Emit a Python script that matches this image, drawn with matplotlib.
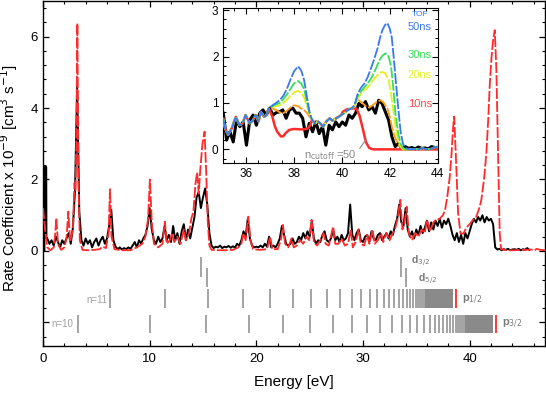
import numpy as np
import matplotlib
matplotlib.use('Agg')
import matplotlib.pyplot as plt
from matplotlib.ticker import MultipleLocator, FuncFormatter

plt.rcParams['font.family'] = ['Liberation Sans', 'DejaVu Sans']

# ---- measured rate (black), regular energy grid ----
EXP_E0 = 0.4
EXP_DE = 0.2
exp_rate = [
    0.35, 0.2, 0.3, 0.15, 0.4, 0.25, 0.1, 0.3, 0.2, 0.35,      # 0.4 - 2.2
    0.5, 0.2, 0.65, 1.7, 4.6, 1.1, 0.3, 0.15, 0.35, 0.2,       # 2.4 - 4.2
    0.3, 0.1, 0.25, 0.35, 0.15, 0.3, 0.4, 0.2, 0.35, 0.7,      # 4.4 - 6.2
    1.15, 0.3, 0.12, 0.05, 0.1, 0.04, 0.08, 0.05, 0.1, 0.06,   # 6.4 - 8.2
    0.15, 0.25, 0.1, 0.3, 0.2, 0.35, 0.45, 0.7, 1.2, 0.6,      # 8.4 - 10.2
    0.3, 0.2, 0.4, 0.25, 0.35, 0.7, 0.3, 0.45, 0.25, 0.7,      # 10.4 - 12.2
    0.3, 0.5, 0.2, 0.55, 0.75, 0.3, 0.6, 0.35, 0.65, 0.95,     # 12.4 - 14.2
    1.5, 1.65, 1.2, 1.5, 1.75, 1.3, 0.5, 0.15, 0.08, 0.12,     # 14.4 - 16.2
    0.1, 0.15, 0.08, 0.12, 0.1, 0.14, 0.09, 0.13, 0.1, 0.2,    # 16.4 - 18.2
    0.15, 0.3, 0.55, 0.4, 0.9, 0.35, 0.15, 0.1, 0.12, 0.1,     # 18.4 - 20.2
    0.15, 0.1, 0.2, 0.12, 0.4, 0.1, 0.15, 0.1, 0.2, 0.35,      # 20.4 - 22.2
    0.7, 0.45, 0.2, 0.15, 0.2, 0.35, 0.2, 0.25, 0.4, 0.3,      # 22.4 - 24.2
    0.5, 0.35, 0.55, 0.4, 0.85, 0.35, 0.2, 0.3, 0.25, 0.45,    # 24.4 - 26.2
    0.55, 0.3, 0.25, 0.35, 0.6, 0.3, 0.4, 0.25, 0.45, 0.3,     # 26.4 - 28.2
    0.35, 0.5, 1.3, 0.45, 0.3, 0.5, 0.6, 0.3, 0.25, 0.4,       # 28.4 - 30.2
    0.45, 0.25, 0.55, 0.35, 0.3, 0.45, 0.5, 0.3, 0.4, 0.5,     # 30.4 - 32.2
    0.35, 0.55, 0.45, 0.7, 0.9, 1.3, 0.8, 0.7, 1.2, 0.6,       # 32.4 - 34.2
    0.4, 0.55, 0.35, 0.6, 0.45, 0.7, 0.5, 0.65, 0.85, 0.55,    # 34.4 - 36.2
    0.8, 0.6, 0.85, 0.7, 0.9, 0.65, 0.85, 0.75, 0.9, 0.7,      # 36.4 - 38.2
    0.45, 0.3, 0.5, 0.25, 0.45, 0.2, 0.5, 0.35, 0.55, 0.75,    # 38.4 - 40.2
    0.9, 0.8, 0.95, 0.85, 1.0, 0.8, 0.95, 0.85, 0.9, 0.75,     # 40.4 - 42.2
    0.1, 0.04, 0.06, 0.02, 0.05, 0.03, 0.06, 0.02, 0.04, 0.05, # 42.4 - 44.2
    0.03, 0.06, 0.02, 0.05, 0.03, 0.08, 0.03,                  # 44.4 - 45.6
]
# narrow spike at the very start of the scan
spike_e = [0.13, 0.15, 0.3, 0.32]
spike_rate = [0.0, 2.35, 2.35, 0.35]

# ---- theory (red dashed), (energy, rate) ----
theory = [
    (0.0, 1.2), (0.2, 0.6), (0.4, 0.1), (0.7, 0.02), (1.0, 0.1), (1.12, 0.4), (1.25, 0.92),
    (1.4, 0.2), (1.7, 0.03), (2.0, 0.1), (2.2, 0.35), (2.37, 1.1), (2.55, 0.25), (2.8, 0.6),
    (2.95, 1.9), (3.05, 1.7), (3.12, 3.0), (3.22, 6.37), (3.32, 2.0), (3.45, 0.3), (3.7, 0.03),
    (4.2, 0.02), (4.8, 0.03), (5.3, 0.05), (5.6, 0.12), (5.9, 0.08), (6.15, 0.5), (6.28, 1.73),
    (6.42, 0.4), (6.7, 0.05), (7.4, 0.02), (8.2, 0.02), (8.8, 0.1), (9.3, 0.2), (9.6, 0.4),
    (9.85, 0.9), (10.02, 2.0), (10.2, 0.8), (10.4, 0.2), (10.8, 0.1), (11.2, 0.2), (11.43, 0.82),
    (11.6, 0.2), (11.9, 0.3), (12.1, 0.5), (12.3, 0.25), (12.6, 0.4), (12.9, 0.2), (13.2, 0.6),
    (13.4, 0.3), (13.7, 0.5), (13.9, 0.9), (14.1, 1.1), (14.3, 1.9), (14.45, 2.2), (14.6, 1.6),
    (14.75, 2.3), (14.95, 3.0), (15.15, 3.34), (15.3, 2.2), (15.45, 0.8), (15.6, 0.15),
    (15.8, 0.03), (16.5, 0.02), (17.2, 0.02), (17.8, 0.03), (18.3, 0.1), (18.6, 0.2), (18.8, 0.5),
    (19.0, 0.3), (19.25, 0.96), (19.45, 0.3), (19.7, 0.05), (20.3, 0.03), (21.0, 0.05),
    (21.3, 0.4), (21.5, 0.05), (22.0, 0.05), (22.3, 0.3), (22.5, 0.73), (22.7, 0.2), (23.0, 0.1),
    (23.3, 0.35), (23.5, 0.1), (23.8, 0.15), (24.1, 0.3), (24.4, 0.2), (24.7, 0.4), (24.95, 0.3),
    (25.18, 0.87), (25.4, 0.25), (25.7, 0.15), (26.0, 0.3), (26.3, 0.5), (26.5, 0.2), (26.8, 0.15),
    (27.2, 0.68), (27.4, 0.2), (27.7, 0.2), (28.0, 0.35), (28.3, 0.15), (28.6, 0.2), (28.85, 0.6),
    (29.05, 0.1), (29.3, 0.25), (29.6, 0.6), (29.8, 0.2), (30.1, 0.15), (30.4, 0.45), (30.6, 0.2),
    (30.9, 0.6), (31.1, 0.2), (31.4, 0.3), (31.7, 0.5), (31.9, 0.25), (32.2, 0.5), (32.5, 0.3),
    (32.8, 0.5), (33.0, 0.6), (33.25, 0.9), (33.5, 1.43), (33.7, 0.6), (33.9, 0.8), (34.1, 1.24),
    (34.3, 0.5), (34.6, 0.3), (34.9, 0.5), (35.2, 0.4), (35.5, 0.6), (35.8, 0.5), (36.0, 0.87),
    (36.3, 0.55), (36.6, 0.8), (36.9, 0.87), (37.2, 0.9), (37.5, 1.0), (37.7, 1.15), (37.9, 1.5),
    (38.14, 2.08), (38.3, 2.7), (38.46, 3.48), (38.55, 3.76), (38.7, 2.74), (38.92, 1.06),
    (39.14, 0.5), (39.4, 0.48), (39.7, 0.65), (40.0, 0.75), (40.32, 0.87), (40.63, 0.96),
    (40.95, 1.24), (41.1, 1.43), (41.35, 2.0), (41.57, 2.74), (41.75, 3.7), (41.88, 4.6),
    (42.05, 5.4), (42.2, 5.9), (42.36, 6.18), (42.51, 5.06), (42.67, 2.74), (42.82, 0.5),
    (42.95, 0.05), (43.5, 0.02), (44.2, 0.02), (45.0, 0.03), (45.8, 0.04), (46.1, 0.02),
    (46.3, 0.06), (46.6, 0.03), (47.05, 0.02),
]

# ---- resonance positions (eV) ----
ryd10_e = [3.25, 10.06, 15.27, 19.28, 22.47, 25.06, 27.17, 28.93, 30.4, 31.64, 32.71, 33.62,
           34.41, 35.1, 35.7, 36.24, 36.71, 37.13, 37.51, 37.85, 38.16, 38.43, 38.69, 38.91,
           39.12, 39.31, 39.49]
ryd10_dense = (39.6, 42.22)
ryd11_e = [6.28, 11.47, 15.51, 18.71, 21.3, 23.41, 25.17, 26.64, 27.88, 28.94, 29.86, 30.65,
           31.34, 31.95, 32.48, 32.95, 33.38, 33.76, 34.1, 34.4, 34.68, 34.93, 35.16, 35.37,
           35.56, 35.74]
ryd11_dense = (35.85, 38.45)
d32_e = [14.81, 33.55]
d52_e = [15.34, 34.08]
p12_limit = 38.77
p32_limit = 42.52

# ---- inset: measured rate on its own grid ----
INSET_E0 = 35.05
INSET_DE = 0.138
inset_exp = [0.78, 0.2, 0.38, 0.16, 0.63, 0.49, 0.59, 0.09, 0.63, 0.74,
             0.52, 0.78, 0.85, 0.74, 0.89, 0.74, 0.79, 0.81, 0.85, 0.67,
             0.85, 0.89, 0.78, 0.78, 0.67, 0.27, 0.56, 0.38, 0.59, 0.34,
             0.49, 0.09, 0.52, 0.42, 0.59, 0.49, 0.59, 0.52, 0.74, 0.67,
             0.78, 0.99, 0.92, 1.03, 0.85, 0.92, 0.78, 1.06, 0.99, 0.81,
             0.63, 0.27, 0.06, 0.13, 0.02, 0.06, 0.02, 0.04, 0.01, 0.05,
             0.02, 0.03, 0.01, 0.06, 0.04]

# inset: model curves, shared pieces and TOF-specific peaks
tof_start = [(35.05, 0.66), (35.12, 0.45), (35.25, 0.31), (35.4, 0.45), (35.57, 0.70),
             (35.72, 0.52), (35.85, 0.55), (35.98, 0.74), (36.15, 0.56), (36.28, 0.62),
             (36.4, 0.74), (36.52, 0.6), (36.62, 0.81), (36.75, 0.7), (36.85, 0.74), (36.95, 0.88)]
tof_mid = [(38.75, 0.64), (38.88, 0.56), (39.0, 0.6), (39.1, 0.56), (39.21, 0.49), (39.35, 0.6),
           (39.49, 0.67), (39.6, 0.62), (39.7, 0.65), (39.85, 0.7), (39.97, 0.74), (40.1, 0.78),
           (40.25, 0.85), (40.4, 0.88)]
tof_tail = [(42.8, 0.0), (43.0, 0.01), (43.2, 0.0), (43.35, 0.03), (43.5, 0.0), (43.7, 0.01),
            (43.85, 0.04), (44.0, 0.06)]

tof50_p1 = [(37.1, 0.95), (37.25, 1.0), (37.4, 1.06), (37.55, 1.15), (37.7, 1.3), (37.85, 1.5),
            (38.0, 1.68), (38.17, 1.79), (38.3, 1.7), (38.42, 1.5), (38.55, 1.1), (38.65, 0.8)]
tof50_p2 = [(40.52, 0.95), (40.66, 1.2), (40.8, 1.33), (40.94, 1.42), (41.07, 1.55),
            (41.21, 1.74), (41.35, 1.95), (41.49, 2.18), (41.6, 2.42), (41.69, 2.57),
            (41.8, 2.68), (41.9, 2.72), (42.0, 2.6), (42.08, 2.42), (42.16, 2.0), (42.24, 1.53),
            (42.35, 0.9), (42.45, 0.38), (42.55, 0.12), (42.66, 0.03)]
tof30_p1 = [(37.1, 0.93), (37.25, 0.97), (37.4, 1.0), (37.55, 1.08), (37.7, 1.18), (37.85, 1.3),
            (38.0, 1.42), (38.17, 1.47), (38.3, 1.42), (38.42, 1.3), (38.55, 1.0), (38.65, 0.78)]
tof30_p2 = [(40.52, 0.93), (40.66, 1.15), (40.8, 1.25), (40.94, 1.34), (41.07, 1.42),
            (41.21, 1.52), (41.35, 1.66), (41.49, 1.83), (41.6, 1.95), (41.69, 2.02),
            (41.83, 2.07), (41.95, 2.0), (42.05, 1.8), (42.15, 1.3), (42.24, 0.75), (42.35, 0.35),
            (42.45, 0.12), (42.55, 0.03), (42.7, 0.0)]
tof20_p1 = [(37.1, 0.91), (37.25, 0.93), (37.4, 0.95), (37.55, 1.0), (37.7, 1.07), (37.85, 1.15),
            (38.0, 1.23), (38.17, 1.26), (38.3, 1.22), (38.42, 1.12), (38.55, 0.92), (38.65, 0.75)]
tof20_p2 = [(40.52, 0.92), (40.66, 1.1), (40.8, 1.2), (40.94, 1.28), (41.07, 1.33),
            (41.21, 1.42), (41.35, 1.52), (41.49, 1.6), (41.6, 1.65), (41.69, 1.67), (41.8, 1.64),
            (41.95, 1.5), (42.05, 1.2), (42.17, 0.74), (42.27, 0.4), (42.35, 0.2), (42.45, 0.06),
            (42.55, 0.0)]
tof10_p1 = [(37.1, 0.88), (37.25, 0.85), (37.4, 0.8), (37.55, 0.78), (37.7, 0.83), (37.85, 0.9),
            (38.0, 0.95), (38.17, 0.93), (38.3, 0.88), (38.42, 0.85), (38.55, 0.78), (38.65, 0.7)]
tof10_p2 = [(40.52, 0.92), (40.6, 1.03), (40.7, 1.06), (40.85, 1.0), (41.0, 0.93), (41.14, 0.9),
            (41.28, 0.95), (41.45, 1.02), (41.62, 1.06), (41.75, 1.0), (41.9, 0.88), (42.0, 0.7),
            (42.1, 0.45), (42.2, 0.28), (42.31, 0.16), (42.4, 0.07), (42.5, 0.03), (42.6, 0.0)]
cut50_dip = [(37.1, 0.7), (37.2, 0.5), (37.3, 0.38), (37.45, 0.28), (37.55, 0.28), (37.65, 0.35),
             (37.8, 0.42), (38.0, 0.44), (38.3, 0.43), (38.55, 0.44), (38.68, 0.52)]
cut50_end = [(40.04, 0.81), (40.2, 0.86), (40.45, 0.88), (40.6, 0.88), (40.73, 0.74),
             (40.87, 0.45), (41.0, 0.16), (41.14, 0.03), (41.3, 0.0), (44.0, 0.0)]

tof_labels = ['50ns', '30ns', '20ns', '10ns']
tof_label_y = [2.64, 2.03, 1.6, 0.97]
tof_colors = ['#3a78f2', '#35e05a', '#e2f01e', '#ff9a10']
tof_text_colors = ['#3a78f2', '#35e05a', '#e2f01e', '#ff4848']

RED = '#ff2a2a'
GREY = '#8a8a8a'


def xy(points):
    e, v = zip(*points)
    return np.array(e), np.array(v)


fig = plt.figure(figsize=(5.46, 3.95), dpi=100)
ax = fig.add_axes([0.0788, 0.124, 0.919, 0.874])

# experiment + theory
exp_e = EXP_E0 + EXP_DE * np.arange(len(exp_rate))
ax.plot(np.concatenate([spike_e, exp_e]), np.concatenate([spike_rate, exp_rate]),
        color='black', lw=1.4, zorder=2)
th_e, th_v = xy(theory)
ax.plot(th_e, th_v, color=RED, lw=1.3, dashes=(6, 1.2), zorder=3)

# resonance markers under the spectrum
ax.vlines(ryd10_e, -2.30, -1.79, color=GREY, lw=1.1)
ax.fill_between(ryd10_dense, -2.30, -1.79, color=GREY, lw=0)
ax.vlines(ryd11_e, -1.60, -1.07, color=GREY, lw=1.1)
ax.fill_between(ryd11_dense, -1.60, -1.07, color=GREY, lw=0)
ax.vlines(d32_e, -0.72, -0.16, color=GREY, lw=1.1)
ax.vlines(d52_e, -1.0, -0.48, color=GREY, lw=1.1)
ax.vlines([p12_limit], -1.60, -1.07, color=RED, lw=1.3)
ax.vlines([p32_limit], -2.30, -1.79, color=RED, lw=1.3)

ax.text(6.05, -1.36, 'n=11', color='#a0a0a0', fontsize=7, ha='right', va='center')
ax.text(2.8, -2.03, 'n=10', color='#a0a0a0', fontsize=7, ha='right', va='center')
ax.text(39.3, -1.36, r'p$_{1/2}$', color='#7a7a7a', fontsize=8, fontweight='bold', va='center')
ax.text(43.0, -2.03, r'p$_{3/2}$', color='#7a7a7a', fontsize=8, fontweight='bold', va='center')
ax.text(34.5, -0.30, r'd$_{3/2}$', color='#7a7a7a', fontsize=7.5, fontweight='bold', va='center')
ax.text(35.2, -0.80, r'd$_{5/2}$', color='#7a7a7a', fontsize=7.5, fontweight='bold', va='center')

ax.set_xlim(0, 47.05)
ax.set_ylim(-2.66, 7.0)
ax.xaxis.set_major_locator(MultipleLocator(10))
ax.xaxis.set_minor_locator(MultipleLocator(2))
ax.yaxis.set_major_locator(MultipleLocator(2))
ax.yaxis.set_minor_locator(MultipleLocator(0.4))
ax.yaxis.set_major_formatter(FuncFormatter(lambda v, p: '' if v < 0 else '%d' % v))
ax.tick_params(which='both', direction='in', top=True, right=True, labelsize=9.5)
ax.tick_params(which='major', length=4.5, width=0.9)
ax.tick_params(which='minor', length=2.5, width=0.8)
ax.tick_params(axis='x', pad=5)
ax.set_xlabel('Energy [eV]', fontsize=11)
ax.set_ylabel(r'Rate Coefficient x 10$^{-9}$ [cm$^3$ s$^{-1}$]', fontsize=11)
ax.xaxis.set_label_coords(0.5, -0.085)
ax.yaxis.set_label_coords(-0.045, 0.486)
for s in ax.spines.values():
    s.set_linewidth(1.0)

# ---- inset ----
ins = fig.add_axes([0.409, 0.5866, 0.3927, 0.3924])
in_e = INSET_E0 + INSET_DE * np.arange(len(inset_exp))
ins.plot(in_e, inset_exp, color='black', lw=2.2, zorder=2)

mid_low = [p for p in tof_mid if p[0] < 40.0]
cut_e, cut_v = xy(tof_start + cut50_dip + mid_low + cut50_end)
ins.plot(cut_e, cut_v, color=RED, lw=1.8, zorder=3)

peaks = [(tof10_p1, tof10_p2), (tof20_p1, tof20_p2), (tof30_p1, tof30_p2), (tof50_p1, tof50_p2)]
for i, (p1, p2) in enumerate(peaks):
    k = 3 - i
    e, v = xy(tof_start + p1 + tof_mid + p2 + tof_tail)
    ins.plot(e, v, color=tof_colors[k], lw=1.3, dashes=(6, 1), zorder=4 + i)

ins.text(43.6, 2.9, 'TOF', color=tof_text_colors[0], fontsize=6, ha='right', va='center')
for lab, y, c in zip(tof_labels, tof_label_y, tof_text_colors):
    ins.text(43.76, y, lab, color=c, fontsize=8, ha='right', va='center')

ins.annotate(r'n$_{\rm cutoff}$ =50', xy=(41.02, 0.22), xytext=(38.4, -0.12),
             color=GREY, fontsize=8, va='center', zorder=12,
             arrowprops=dict(arrowstyle='-', color=GREY, lw=0.8, shrinkA=1, shrinkB=0,
                             relpos=(1.0, 0.6)))

ins.set_xlim(35.05, 44.0)
ins.set_ylim(-0.3, 3.04)
ins.xaxis.set_major_locator(MultipleLocator(2))
ins.xaxis.set_minor_locator(MultipleLocator(0.5))
ins.yaxis.set_major_locator(MultipleLocator(1))
ins.yaxis.set_minor_locator(MultipleLocator(0.2))
ins.tick_params(which='both', direction='in', top=True, right=True, labelsize=8.5)
ins.tick_params(which='major', length=4, width=0.8)
ins.tick_params(which='minor', length=2, width=0.7)

fig.savefig('out.png', dpi=100)
